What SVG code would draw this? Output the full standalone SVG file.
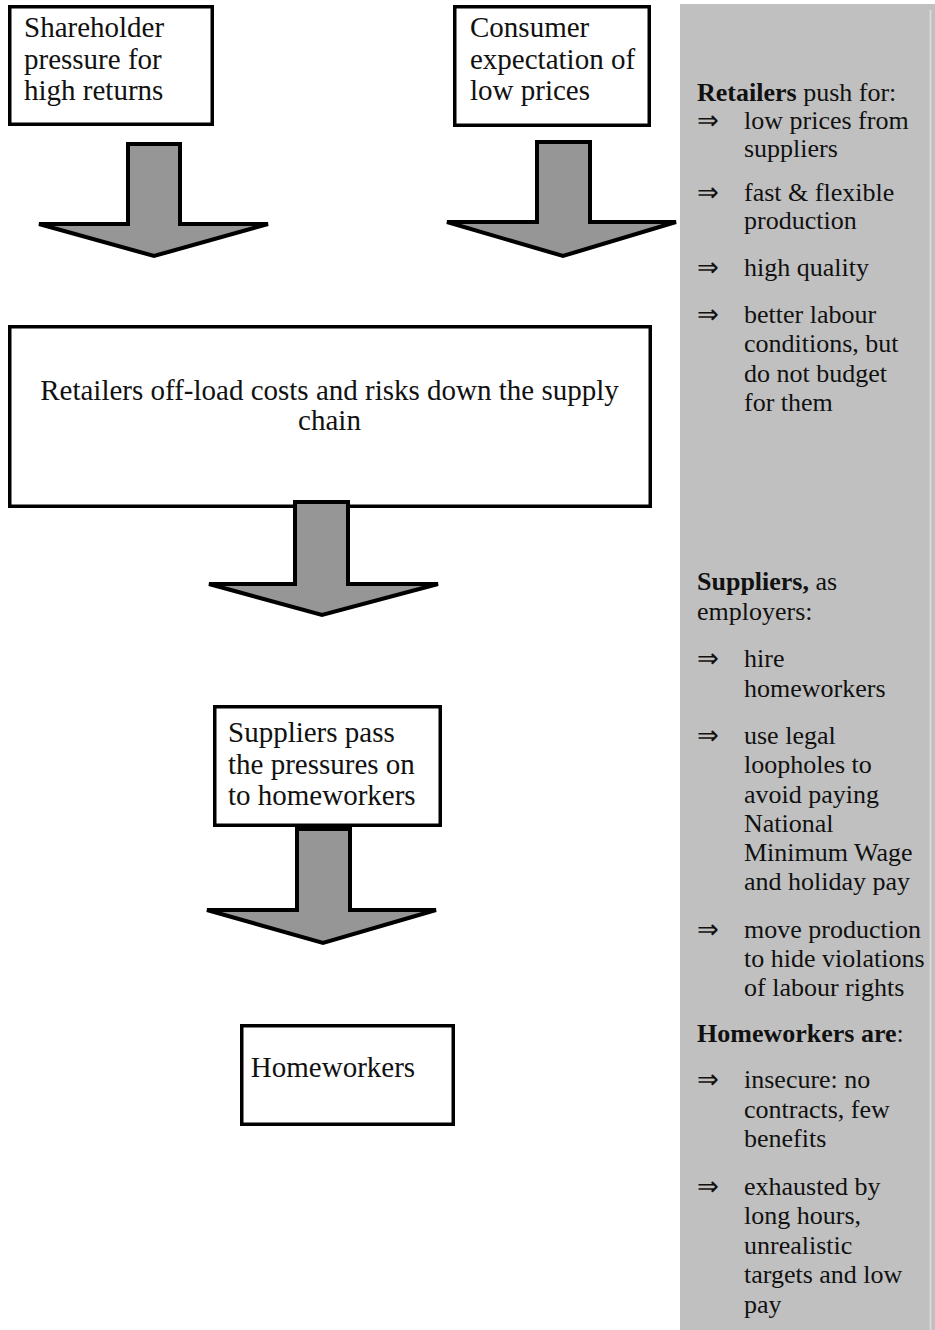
<svg xmlns="http://www.w3.org/2000/svg" width="935" height="1330" viewBox="0 0 935 1330">
<style>
.box{fill:#ffffff;stroke:#000000;stroke-width:3.5}
.arr{fill:#969696;stroke:#000000;stroke-width:4;stroke-linejoin:miter}
.t{font-family:"Liberation Serif","Times New Roman",serif;font-size:29px;fill:#111111}
.s{font-family:"Liberation Serif","Times New Roman",serif;font-size:26px;fill:#111111}
.b{font-weight:bold}
</style>
<rect x="0" y="0" width="935" height="1330" fill="#ffffff"/>
<g id="node-shareholder">
<rect class="box" x="9.75" y="6.75" width="202.5" height="117.5"/>
<text class="t" x="24" y="37">Shareholder</text>
<text class="t" x="24" y="69">pressure for</text>
<text class="t" x="24" y="100">high returns</text>
</g>
<g id="node-consumer">
<rect class="box" x="454.75" y="6.75" width="194.5" height="118.5"/>
<text class="t" x="470" y="37">Consumer</text>
<text class="t" x="470" y="69">expectation of</text>
<text class="t" x="470" y="100">low prices</text>
</g>
<g id="node-retailers">
<rect class="box" x="9.75" y="326.75" width="640.5" height="179.5"/>
<text class="t" x="329.5" y="400" text-anchor="middle">Retailers off-load costs and risks down the supply</text>
<text class="t" x="329.5" y="430" text-anchor="middle">chain</text>
</g>
<g id="node-suppliers">
<rect class="box" x="214.75" y="706.75" width="225.5" height="118.5"/>
<text class="t" x="228" y="742">Suppliers pass</text>
<text class="t" x="228" y="774">the pressures on</text>
<text class="t" x="228" y="805">to homeworkers</text>
</g>
<g id="node-homeworkers">
<rect class="box" x="241.75" y="1025.75" width="211.5" height="98.5"/>
<text class="t" x="333" y="1077" text-anchor="middle">Homeworkers</text>
</g>
<g id="connectors">
<polygon class="arr" points="128,144 180,144 180,224 268,224 154,256 39,224 128,224"/>
<polygon class="arr" points="537,142 590,142 590,222 676,222 563,256 447,222 537,222"/>
<polygon class="arr" points="295,502 348,502 348,584 438,584 322,615 209,584 295,584"/>
<polygon class="arr" points="297,829 350,829 350,910 436,910 323,943 207,910 297,910"/>
</g>
<g id="panel">
<rect x="680" y="4" width="255" height="1326" fill="#c0c0c0"/>
<line x1="930.5" y1="10" x2="930.5" y2="1330" stroke="#dedede" stroke-width="1.5"/>
<text class="s" x="697" y="101"><tspan class="b">Retailers</tspan> push for:</text>
<text class="s" x="697" y="129">⇒</text>
<text class="s" x="744" y="129">low prices from</text>
<text class="s" x="744" y="157">suppliers</text>
<text class="s" x="697" y="201">⇒</text>
<text class="s" x="744" y="201">fast &amp; flexible</text>
<text class="s" x="744" y="229">production</text>
<text class="s" x="697" y="276">⇒</text>
<text class="s" x="744" y="276">high quality</text>
<text class="s" x="697" y="323">⇒</text>
<text class="s" x="744" y="323">better labour</text>
<text class="s" x="744" y="352">conditions, but</text>
<text class="s" x="744" y="382">do not budget</text>
<text class="s" x="744" y="411">for them</text>
<text class="s" x="697" y="590"><tspan class="b">Suppliers,</tspan> as</text>
<text class="s" x="697" y="620">employers:</text>
<text class="s" x="697" y="667">⇒</text>
<text class="s" x="744" y="667">hire</text>
<text class="s" x="744" y="697">homeworkers</text>
<text class="s" x="697" y="744">⇒</text>
<text class="s" x="744" y="744">use legal</text>
<text class="s" x="744" y="773">loopholes to</text>
<text class="s" x="744" y="803">avoid paying</text>
<text class="s" x="744" y="832">National</text>
<text class="s" x="744" y="861">Minimum Wage</text>
<text class="s" x="744" y="890">and holiday pay</text>
<text class="s" x="697" y="938">⇒</text>
<text class="s" x="744" y="938">move production</text>
<text class="s" x="744" y="967">to hide violations</text>
<text class="s" x="744" y="996">of labour rights</text>
<text class="s" x="697" y="1042"><tspan class="b">Homeworkers are</tspan>:</text>
<text class="s" x="697" y="1088">⇒</text>
<text class="s" x="744" y="1088">insecure: no</text>
<text class="s" x="744" y="1118">contracts, few</text>
<text class="s" x="744" y="1147">benefits</text>
<text class="s" x="697" y="1195">⇒</text>
<text class="s" x="744" y="1195">exhausted by</text>
<text class="s" x="744" y="1224">long hours,</text>
<text class="s" x="744" y="1254">unrealistic</text>
<text class="s" x="744" y="1283">targets and low</text>
<text class="s" x="744" y="1313">pay</text>
</g>
</svg>
